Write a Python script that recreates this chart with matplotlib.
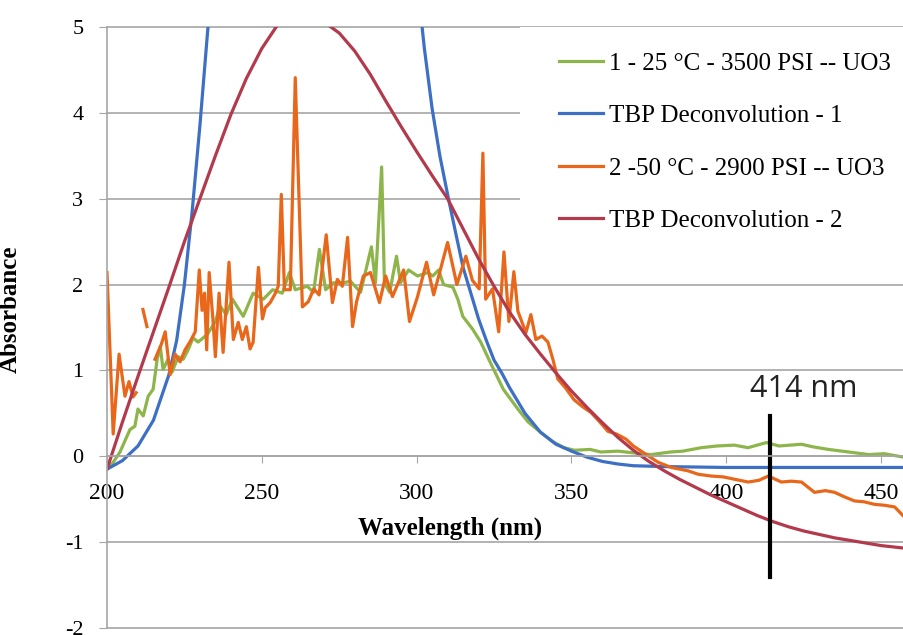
import numpy as np
import matplotlib.pyplot as plt
from matplotlib.patches import Rectangle

# Datos
green_x = [200, 202, 204.2, 207.4, 209, 210, 211.7, 213.3, 214.9, 216.2, 217.2, 218.1, 219.7, 221,
           223, 224.6, 226.2, 227.8, 229.4, 232.4, 235, 236.5, 238.5, 240.5, 244, 247.2, 250.5,
           253.5, 256.6, 258.9, 260.8, 264.7, 266.7, 268.6, 270.6, 273.1, 276.4, 278.6, 281.9,
           285.4, 286.7, 288.7, 289.6, 291.3, 293.5, 294.8, 297.4, 300.3, 303.6, 305.2, 307.1,
           308.7, 311.7, 313.3, 314.9, 318.1, 320.7, 323.3, 324.9, 328, 332.7, 336, 340, 344,
           347.6, 351, 356, 359.5, 365, 370, 375.7, 382, 386, 391.9, 397, 402.6, 407, 413, 417,
           424.3, 428, 433, 439.5, 446, 451, 457.3]
green_y = [-0.15, -0.07, 0.05, 0.31, 0.35, 0.55, 0.47, 0.70, 0.78, 1.13, 1.28, 1.01, 1.13, 0.98,
           1.16, 1.13, 1.24, 1.38, 1.33, 1.42, 1.57, 1.75, 1.65, 1.83, 1.63, 1.90, 1.83,
           1.94, 1.90, 2.14, 1.94, 1.98, 1.91, 2.41, 1.94, 2.02, 2.02, 2.04, 1.91,
           2.44, 2.02, 3.37, 2.02, 1.91, 2.33, 2.02, 2.17, 2.10, 2.14, 2.10, 2.17,
           2.00, 1.97, 1.83, 1.63, 1.48, 1.33, 1.13, 1.01, 0.78, 0.55, 0.40, 0.28, 0.17,
           0.10, 0.07, 0.08, 0.05, 0.06, 0.04, 0.02, 0.05, 0.06, 0.10, 0.12, 0.13, 0.10, 0.16, 0.12,
           0.14, 0.11, 0.08, 0.05, 0.02, 0.03, -0.01]

blue_x = [200, 205, 210, 215, 220, 222.5, 225, 227.5, 230, 232.5, 235, 240, 245, 250, 255, 260,
          265, 270, 275, 280, 285, 290, 295, 300, 302.5, 305, 307.5, 310, 312.5, 315, 317.5,
          320, 322.5, 325, 327.5, 330, 335, 340, 345, 350, 355, 360, 365, 370, 380, 400, 430, 460]
blue_y = [-0.15, -0.05, 0.12, 0.42, 0.95, 1.35, 2.0, 2.85, 3.85, 4.95, 5.9, 7.8, 9.5, 10.8, 11.7, 12.1,
          12.0, 11.5, 10.6, 9.5, 8.3, 7.2, 6.4, 5.6, 4.75, 4.05, 3.5, 3.05, 2.62, 2.2, 1.9,
          1.6, 1.35, 1.12, 0.97, 0.8, 0.5, 0.28, 0.14, 0.06, -0.01, -0.06, -0.09, -0.11, -0.12,
          -0.13, -0.13, -0.13]

# nan = huecos en la serie medida
nan = np.nan
orange_x = [200, 202, 203.9, 205.8, 207.1, 208.4, 209.4, 210.5, 211.6, 212.9, 214,
            215.5, 217.5, 218.8, 220.4, 222, 223.6, 225.2, 226.9, 228.5, 229.8, 230.7, 231.5,
            232.2, 233, 234.2, 235, 236.2, 237.5, 239.4, 240.8, 242.4, 243.7, 245, 246.2,
            247.2, 248.9, 250.2, 251.1, 252.7, 254.4, 255.3, 256.3, 257.3, 259.2, 260.8, 263.1,
            265, 266.8, 268.5, 270.8, 272.8, 274.4, 276, 277.7, 279.3, 280.6, 282.8, 285.1,
            288, 290, 292.2, 295.8, 297.7, 300.3, 303.2, 305.5, 307.5, 310, 313, 315.9, 318,
            320.2, 321.4, 322.3, 324.5, 326.5, 328.2, 329.8, 331.4, 332.7, 335.3, 336.9, 338.5,
            340.5, 342.4, 344, 345.6, 348, 350.8, 353.5, 356.3, 358.9, 361.8, 364.5, 367.6, 370,
            372.5, 375, 378, 382.2, 385, 387.7, 391, 395.1, 399, 403, 407.1, 410.5, 413.6, 417.8,
            421, 424.3, 428.5, 432, 435, 438, 441.4, 444.5, 447.9, 451, 454.4, 457.3]
orange_y = [2.14, 0.26, 1.19, 0.70, 0.87, 0.69, 0.74, nan, 1.71, 1.51, nan,
            1.13, 1.30, 1.45, 0.95, 1.19, 1.10, 1.24, 1.34, 1.45, 2.17, 1.70, 1.90,
            1.24, 2.14, 1.60, 1.16, 1.90, 1.21, 2.26, 1.36, 1.56, 1.36, 1.51, 1.25,
            1.33, 2.20, 1.60, 1.73, 1.79, 1.90, 1.98, 3.05, 1.94, 1.94, 4.41, 1.74,
            1.80, 1.95, 1.88, 2.58, 1.79, 2.06, 1.98, 2.55, 1.51, 1.80, 2.10, 2.14,
            1.79, 2.10, 1.86, 2.17, 1.57, 1.86, 2.26, 1.88, 2.15, 2.49, 2.00, 2.33, 2.05,
            1.95, 3.53, 1.83, 1.95, 1.45, 2.38, 1.57, 2.15, 1.69, 1.44, 1.65, 1.36,
            1.40, 1.33, 1.13, 0.90, 0.80, 0.66, 0.58, 0.51, 0.41, 0.29, 0.26, 0.20, 0.12,
            0.06, 0.00, -0.07, -0.13, -0.15, -0.17, -0.21, -0.23, -0.24, -0.27, -0.30, -0.28, -0.23, -0.30,
            -0.29, -0.30, -0.42, -0.40, -0.42, -0.47, -0.52, -0.53, -0.56, -0.57, -0.59, -0.70]

red_x = list(range(200, 461, 5))
red_y = [-0.15, 0.4, 0.93, 1.45, 1.97, 2.5, 3.0, 3.5, 3.98, 4.4, 4.75, 5.02, 5.1, 5.12, 5.06,
         4.93, 4.72, 4.45, 4.14, 3.84, 3.55, 3.27, 3.0, 2.65, 2.3, 1.98, 1.68, 1.42, 1.19, 0.97,
         0.76, 0.57, 0.39, 0.22, 0.07, -0.06, -0.17, -0.27, -0.36, -0.45, -0.53, -0.61, -0.69,
         -0.76, -0.82, -0.87, -0.91, -0.95, -0.98, -1.01, -1.04, -1.06, -1.08]

labels = ['1 - 25 °C - 3500 PSI -- UO3', 'TBP Deconvolution - 1',
          '2 -50 °C - 2900 PSI -- UO3', 'TBP Deconvolution - 2']
colors = ['#8DB54B', '#3D6FC4', '#E8671A', '#B23A4C']

marker_nm = 414
marker_lo, marker_hi = -1.41, 0.47

plt.rcParams['font.family'] = ['Liberation Serif', 'DejaVu Serif']
plt.rcParams['axes.unicode_minus'] = False

fig = plt.figure(figsize=(9.04, 6.35), dpi=100)
ax = fig.add_axes([107 / 904, 7 / 635, 797 / 904, 601 / 635])

series = [(green_x, green_y), (blue_x, blue_y), (orange_x, orange_y), (red_x, red_y)]
for (xs, ys), lab, c in zip(series, labels, colors):
    ax.plot(xs, ys, color=c, lw=2.3, label=lab, solid_joinstyle='round')

ax.set_xlim(200, 457.4)
ax.set_ylim(-2, 5)
ax.set_xticks(range(200, 451, 50))
ax.set_yticks(range(-2, 6))

# eje x cruzando en y = 0 como en Excel
for s in ['top', 'right']:
    ax.spines[s].set_visible(False)
ax.spines['bottom'].set_position(('data', 0))
ax.spines['bottom'].set_color('#A6A6A6')
ax.spines['left'].set_color('#A6A6A6')
ax.spines['bottom'].set_linewidth(1.2)
ax.spines['left'].set_linewidth(1.2)
ax.grid(axis='y', color='#A6A6A6', lw=1.2)
ax.set_axisbelow(True)
for gl in ax.yaxis.get_gridlines():
    gl.set_clip_on(False)

ax.tick_params(axis='y', labelsize=16, length=6, color='#A6A6A6', pad=11)
ax.tick_params(axis='x', labelsize=17, length=5, color='#A6A6A6', pad=14)

ax.set_ylabel('Absorbance', fontsize=18, fontweight='bold')
ax.yaxis.set_label_coords(-0.107, 0.53)
ax.set_xlabel('Wavelength (nm)', fontsize=18, fontweight='bold',
              bbox=dict(facecolor='white', edgecolor='none', pad=6))
ax.xaxis.label.set_va('center')
ax.xaxis.set_label_coords(0.43, 0.166)

# caja blanca de la leyenda
ax.add_patch(Rectangle((0.518, 0.59), 0.49, 0.41, transform=ax.transAxes,
                       facecolor='white', edgecolor='none', zorder=1.5, clip_on=False))
ax.legend(loc='upper left', bbox_to_anchor=(0.555, 0.975), frameon=False, fontsize=18,
          handlelength=1.75, handletextpad=0.25, labelspacing=1.2, borderaxespad=0)

# marca en 414 nm
ax.plot([marker_nm, marker_nm], [marker_lo, marker_hi], color='black', lw=3)
ax.text(marker_nm + 11, 0.78, f'{marker_nm} nm', fontsize=22, family='Open Sans',
        ha='center', va='center', color='#222222')

fig.savefig('out.png', dpi=100)
